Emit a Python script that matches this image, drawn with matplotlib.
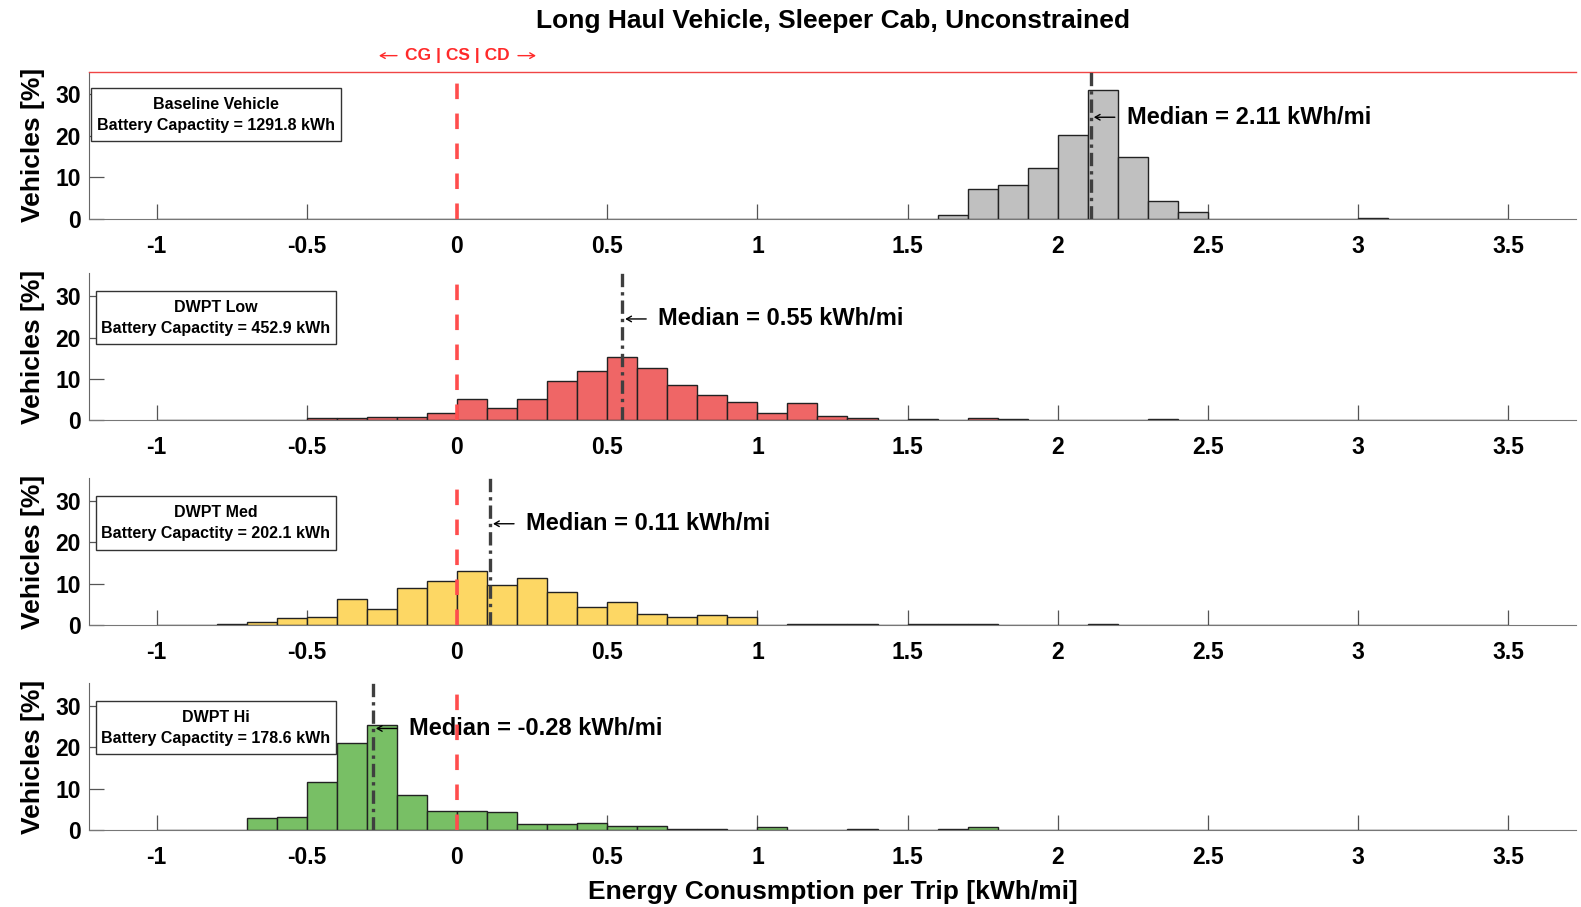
import numpy as np
import matplotlib
matplotlib.use("Agg")
import matplotlib.pyplot as plt
from matplotlib.patches import Rectangle
from matplotlib.transforms import offset_copy

plt.rcParams['font.family'] = ['Liberation Sans', 'DejaVu Sans']
plt.rcParams['font.weight'] = 'bold'

# histogram bins: 0.1 kWh/mi wide, from -1.0 to 3.5
bin_left = np.round(np.arange(-1.0, 3.45, 0.1), 2)

# percent of vehicles per bin
baseline = [0, 0, 0, 0, 0, 0, 0, 0, 0, 0,
            0, 0, 0, 0, 0, 0, 0, 0, 0, 0,
            0, 0, 0, 0, 0, 0, 1.0, 7.2, 8.2, 12.2,
            20.3, 31.0, 15.0, 4.3, 1.7, 0, 0, 0, 0, 0,
            0.3, 0, 0, 0, 0]
dwpt_low = [0, 0, 0, 0, 0, 0.55, 0.55, 0.9, 0.9, 1.9,
            5.1, 3.1, 5.1, 9.6, 12.0, 15.2, 12.7, 8.5, 6.1, 4.4,
            1.85, 4.1, 1.2, 0.65, 0, 0.25, 0, 0.65, 0.25, 0,
            0, 0, 0, 0.25, 0, 0, 0, 0, 0, 0,
            0, 0, 0, 0, 0]
dwpt_med = [0, 0, 0.25, 0.7, 1.8, 2.0, 6.3, 3.9, 9.0, 10.8,
            13.0, 9.8, 11.5, 8.0, 4.5, 5.6, 2.8, 2.1, 2.4, 2.0,
            0, 0.25, 0.25, 0.25, 0, 0.2, 0.2, 0.2, 0, 0,
            0, 0.25, 0, 0, 0, 0, 0, 0, 0, 0,
            0, 0, 0, 0, 0]
dwpt_hi = [0, 0, 0, 2.9, 3.2, 11.7, 21.1, 25.3, 8.5, 4.7,
           4.7, 4.4, 1.45, 1.45, 1.8, 1.05, 0.85, 0.3, 0.3, 0,
           0.7, 0, 0, 0.3, 0, 0, 0.3, 0.8, 0, 0,
           0, 0, 0, 0, 0, 0, 0, 0, 0, 0,
           0, 0, 0, 0, 0]

names = ["Baseline Vehicle", "DWPT Low", "DWPT Med", "DWPT Hi"]
capacity = [1291.8, 452.9, 202.1, 178.6]
medians = [2.11, 0.55, 0.11, -0.28]
series = [baseline, dwpt_low, dwpt_med, dwpt_hi]
colors = ['#C0C0C0', '#EF6666', '#FDD764', '#78BF65']

xticks = [-1, -0.5, 0, 0.5, 1, 1.5, 2, 2.5, 3, 3.5]
xtick_labels = ['-1', '-0.5', '0', '0.5', '1', '1.5', '2', '2.5', '3', '3.5']
yticks = [0, 10, 20, 30]

fig = plt.figure(figsize=(15.81, 9.07), dpi=100)

bottoms = [0.7588, 0.5364, 0.3106, 0.0849]
left, width, height = 0.0563, 0.9405, 0.1622
# legend box extents in axes fraction (x0, x1, y0, y1)
boxes = [(0.0011, 0.1693, 0.5275, 0.891),
         (0.0046, 0.166, 0.518, 0.878),
         (0.0046, 0.166, 0.515, 0.878),
         (0.0046, 0.166, 0.515, 0.878)]


def thin_arrow(ax, x, y, px_head, px_tail, coords, color='black'):
    # little open arrow, positioned in pixels relative to (x, y)
    head = offset_copy(coords, fig=fig, x=px_head, y=0, units='dots')
    tail = offset_copy(coords, fig=fig, x=px_tail, y=0, units='dots')
    ax.annotate('', xy=(x, y), xycoords=head, xytext=(x, y), textcoords=tail,
                arrowprops=dict(arrowstyle='->,head_length=0.35,head_width=0.2',
                                lw=1.0, color=color, shrinkA=0, shrinkB=0),
                annotation_clip=False, zorder=3)


axes = []
for i in range(4):
    ax = fig.add_axes([left, bottoms[i], width, height])
    axes.append(ax)
    ax.bar(bin_left, series[i], width=0.1, align='edge', color=colors[i],
           edgecolor='#222222', linewidth=1.0, zorder=2)
    ax.set_xlim(-1.225, 3.725)
    ax.set_ylim(0, 35.5)
    ax.set_xticks(xticks)
    ax.set_xticklabels(xtick_labels)
    ax.set_yticks(yticks)
    ax.tick_params(axis='both', direction='in', length=11, width=0.9,
                   color='#555555', labelsize=16.5)
    ax.tick_params(axis='x', pad=11.5)
    ax.tick_params(axis='y', pad=6)
    ax.spines['right'].set_visible(False)
    if i == 0:
        ax.spines['top'].set_color('#F04545')
        ax.spines['top'].set_linewidth(1.0)
    else:
        ax.spines['top'].set_visible(False)
    ax.spines['left'].set_color('#666666')
    ax.spines['bottom'].set_color('#777777')

    # CG / CS boundary and median
    ax.axvline(0, color='#FF4D4D', lw=2.6, ls=(0, (4.3, 4.0)), zorder=4)
    ax.axvline(medians[i], color='#3F3F3F', lw=2.4,
               ls=(0, (4, 1.5, 1, 1.5)), zorder=5)
    thin_arrow(ax, medians[i], 24.5, 3, 24, ax.transData)
    ax.annotate(f'Median = {medians[i]:.2f} kWh/mi', xy=(medians[i], 24.5),
                xytext=(26, 0), textcoords='offset points', ha='left',
                va='center', fontsize=17, zorder=3)

    x0, x1, y0, y1 = boxes[i]
    ax.add_patch(Rectangle((x0, y0), x1 - x0, y1 - y0, transform=ax.transAxes,
                           facecolor='white', edgecolor='#333333', lw=1.0,
                           zorder=6))
    xc, yc = (x0 + x1) / 2, (y0 + y1) / 2
    ax.text(xc, yc + 0.068, names[i], transform=ax.transAxes, ha='center',
            va='center', fontsize=11.5, zorder=7)
    ax.text(xc, yc - 0.074, f'Battery Capactity = {capacity[i]} kWh',
            transform=ax.transAxes, ha='center', va='center', fontsize=11.5,
            zorder=7)

    ax.text(-0.0377, 0.5, 'Vehicles [%]', transform=ax.transAxes,
            rotation=90, ha='center', va='center', fontsize=19)

# CG | CS | CD marker above the top panel
ax0 = axes[0]
top_tr = ax0.get_xaxis_transform()
ax0.annotate('CG | CS | CD', xy=(0, 1), xycoords=top_tr, xytext=(0, 11.5),
             textcoords='offset points', ha='center', va='center',
             color='#FF2A2A', fontsize=12.5)
lab_y = offset_copy(top_tr, fig=fig, x=0, y=16, units='dots')
thin_arrow(ax0, 0, 1, -78, -60, lab_y, color='#FF2A2A')
thin_arrow(ax0, 0, 1, 79, 61, lab_y, color='#FF2A2A')

fig.text(0.5266, 0.977, 'Long Haul Vehicle, Sleeper Cab, Unconstrained',
         ha='center', va='center', fontsize=19)
fig.text(0.5266, 0.0165, 'Energy Conusmption per Trip [kWh/mi]',
         ha='center', va='center', fontsize=19)

fig.savefig('out.png', dpi=100)
